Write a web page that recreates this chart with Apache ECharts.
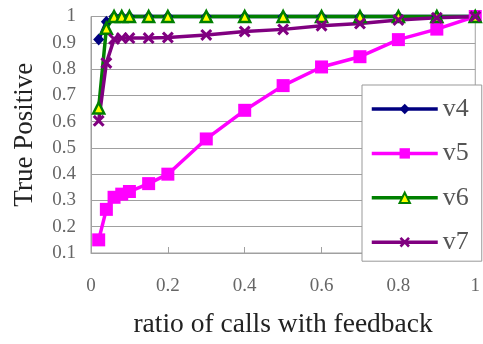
<!DOCTYPE html>
<html>
<head>
<meta charset="utf-8">
<script src="https://cdn.jsdelivr.net/npm/echarts@6/dist/echarts.min.js"></script>
<style>
html,body{margin:0;padding:0;background:#fff;}
#chart{width:483px;height:344px;}
</style>
</head>
<body>
<div id="chart"></div>
<script>
const xValues = [0.02, 0.04, 0.06, 0.08, 0.1, 0.15, 0.2, 0.3, 0.4, 0.5, 0.6, 0.7, 0.8, 0.9, 1.0];
const v4 = [0.912, 0.98, 1, 1, 1, 1, 1, 1, 1, 1, 1, 1, 1, 1, 1];
const v5 = [0.15, 0.266, 0.312, 0.324, 0.334, 0.364, 0.40, 0.534, 0.643, 0.737, 0.808, 0.847, 0.912, 0.952, 1.0];
const v6 = [0.652, 0.955, 1, 1, 1, 1, 1, 1, 1, 1, 1, 1, 1, 1, 1];
const v7 = [0.603, 0.823, 0.914, 0.918, 0.918, 0.918, 0.92, 0.93, 0.943, 0.951, 0.965, 0.973, 0.987, 0.995, 1.0];
const seriesNames = ['v4', 'v5', 'v6', 'v7'];
const xTitle = 'ratio of calls with feedback';
const yTitle = 'True Positive';

const FONT = '"Liberation Serif", "Times New Roman", serif';
const pair = arr => xValues.map((x, i) => [x, arr[i]]);
const X_PATH = 'path://M0,1.8 L1.8,0 L5,3.2 L8.2,0 L10,1.8 L6.8,5 L10,8.2 L8.2,10 L5,6.8 L1.8,10 L0,8.2 L3.2,5 Z';

const chart = echarts.init(document.getElementById('chart'), null, {renderer: 'canvas'});
chart.setOption({
  animation: false,
  backgroundColor: '#fff',
  grid: {left: 91, top: 16.5, right: 4, bottom: 87.5, show: true, borderColor: '#a0a0a0', borderWidth: 1, backgroundColor: '#fff'},
  legend: {
    orient: 'vertical', left: 362, top: 85,
    padding: [11, 13, 6, 8],
    itemWidth: 66, itemHeight: 13, itemGap: 18.4,
    borderColor: '#999', borderWidth: 1, backgroundColor: '#fff',
    lineStyle: {width: 3.5},
    textStyle: {fontFamily: FONT, fontSize: 26, color: '#555', lineHeight: 26},
    data: seriesNames
  },
  xAxis: {
    type: 'value', min: 0, max: 1, interval: 0.2,
    name: xTitle, nameLocation: 'middle', nameGap: 58,
    nameTextStyle: {fontFamily: FONT, fontSize: 27.5, color: '#222'},
    axisLine: {show: true, lineStyle: {color: '#a0a0a0', width: 1}},
    axisTick: {show: true, inside: true, length: 6, lineStyle: {color: '#a0a0a0'}},
    axisLabel: {fontFamily: FONT, fontSize: 19, color: '#666', margin: 24},
    splitLine: {show: false}
  },
  yAxis: {
    type: 'value', min: 0.1, max: 1, interval: 0.1,
    name: yTitle, nameLocation: 'middle', nameGap: 53, nameRotate: 90,
    nameTextStyle: {fontFamily: FONT, fontSize: 27, color: '#222'},
    axisLine: {show: true, lineStyle: {color: '#a0a0a0', width: 1}},
    axisTick: {show: false},
    axisLabel: {fontFamily: FONT, fontSize: 19, color: '#666', margin: 15},
    splitLine: {show: true, lineStyle: {color: '#a0a0a0', width: 1}}
  },
  series: [
    {name: 'v4', type: 'line', data: pair(v4), clip: false,
     symbol: 'diamond', symbolSize: [11, 12],
     lineStyle: {color: '#000080', width: 3.5},
     itemStyle: {color: '#000080'}},
    {name: 'v5', type: 'line', data: pair(v5), clip: false,
     symbol: 'rect', symbolSize: 13,
     lineStyle: {color: '#ff00ff', width: 3.5},
     itemStyle: {color: '#ff00ff'}},
    {name: 'v6', type: 'line', data: pair(v6), clip: false,
     symbol: 'triangle', symbolSize: 11,
     lineStyle: {color: '#008000', width: 3.5},
     itemStyle: {color: '#ffff00', borderColor: '#008000', borderWidth: 2.5}},
    {name: 'v7', type: 'line', data: pair(v7), clip: false,
     symbol: X_PATH, symbolSize: 12,
     lineStyle: {color: '#800080', width: 3.5},
     itemStyle: {color: '#800080'}}
  ]
});
</script>
</body>
</html>
